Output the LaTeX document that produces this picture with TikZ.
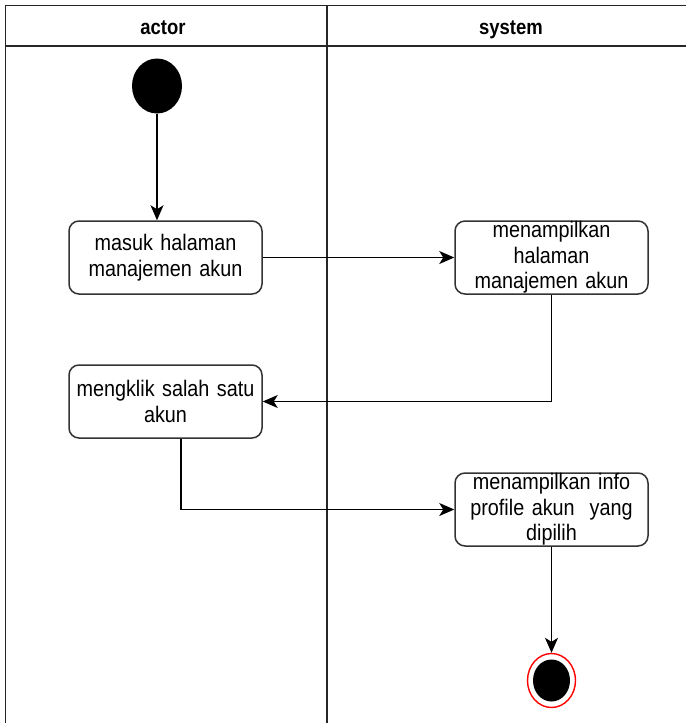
\documentclass[tikz,border=0pt]{standalone}
\usepackage{fontspec}
\setmainfont[FakeStretch=0.88, WordSpace=0.8]{Liberation Sans}
\usetikzlibrary{arrows.meta,shapes.geometric}
\tikzset{
  lane/.style={line width=1.6pt, draw=black!85},
  actbox/.style={draw=black!80, line width=1.5pt, rounded corners=10pt, fill=white,
    minimum width=193pt, minimum height=73pt, inner sep=0pt, text width=190pt,
    align=center, font=\fontsize{22.5}{25.5}\selectfont},
  flow/.style={draw=black, line width=1.4pt, -{Stealth[length=15pt,width=13pt,inset=4pt]}},
  lanehead/.style={font=\bfseries\fontsize{21}{24}\selectfont, inner sep=0pt, anchor=base}
}
\begin{document}
\begin{tikzpicture}[x=1pt,y=-1pt]
  \useasboundingbox (0,0) rectangle (686,723);
  % swimlane frame
  \draw[lane] (686,5.5) -- (5.5,5.5) -- (5.5,723);
  \draw[lane] (5.5,46) -- (686,46);
  \draw[lane] (327,5.5) -- (327,723);
  \node[lanehead] (hactor) at (163,34) {actor};
  \node[lanehead] (hsys) at (511,34) {system};

  % start and final nodes
  \node[ellipse, fill=black, minimum width=50pt, minimum height=55pt, inner sep=0pt] (start) at (157,86) {};
  \node[ellipse, draw=red, line width=1.4pt, fill=white, minimum width=48pt, minimum height=54pt, inner sep=0pt] (final) at (551.5,680.5) {};
  \node[ellipse, fill=black, minimum width=37pt, minimum height=42pt, inner sep=0pt] (finalin) at (551.5,680.5) {};

  % activities
  \node[actbox] (b1) at (165.5,257.5) {masuk halaman\\manajemen akun};
  \node[actbox] (b2) at (551.5,257.5) {menampilkan\\halaman\\manajemen akun};
  \node[actbox] (b3) at (165.5,401.5) {mengklik salah satu\\akun};
  \node[actbox] (b4) at (551.5,509.5) {menampilkan info\\profile akun\ \ yang\\dipilih};

  % flows
  \draw[flow] (start.south) -- (start.south |- b1.north);
  \draw[flow] (b1.east) -- (b2.west);
  \draw[flow] (b2.south) |- (b3.east);
  \draw[flow] ([xshift=15.5pt]b3.south) |- (b4.west);
  \draw[flow] (b4.south) -- (final.north);
\end{tikzpicture}
\end{document}
